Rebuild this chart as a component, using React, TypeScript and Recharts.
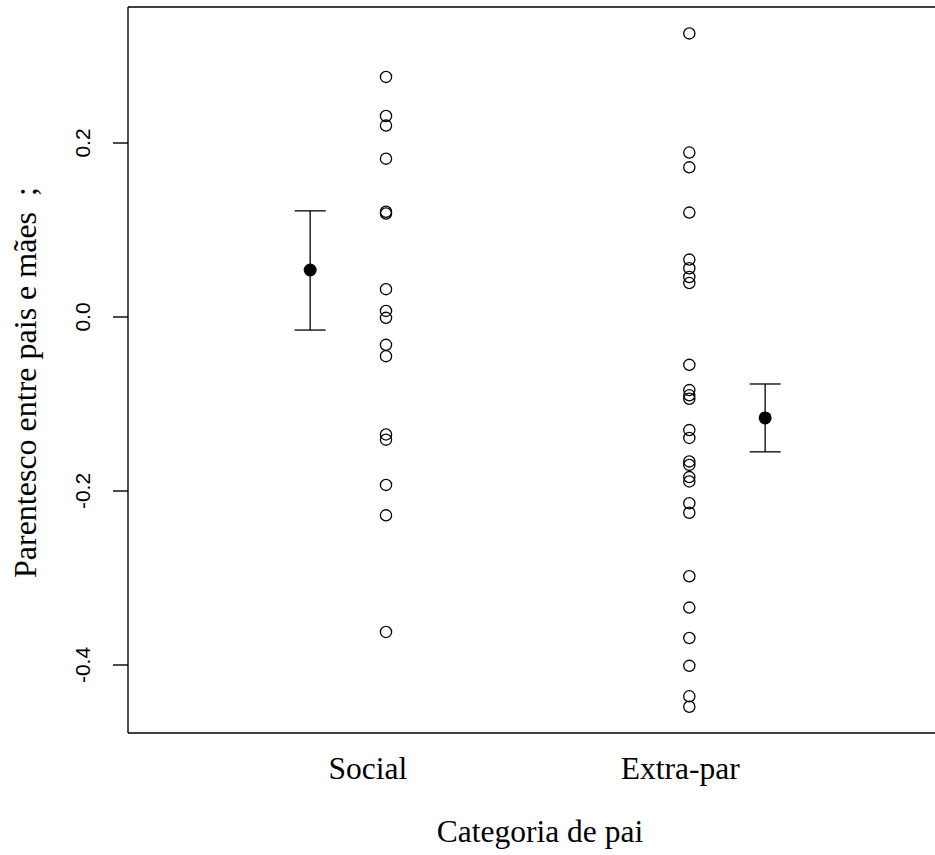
import React from "react";
import { ScatterChart, Scatter, XAxis, YAxis, ErrorBar, Label } from "recharts";

// ---- data ----
const categories = ["Social", "Extra-par"];
const categoryLabelPos = [0.94, 1.97];
const pointPos = [1, 2];
const meanPos = [0.75, 2.25];

const socialValues = [0.276, 0.231, 0.22, 0.182, 0.121, 0.119, 0.032, 0.007, -0.001, -0.032, -0.045, -0.135, -0.141, -0.193, -0.228, -0.362];
const extraParValues = [0.326, 0.189, 0.172, 0.12, 0.066, 0.056, 0.046, 0.039, -0.055, -0.084, -0.09, -0.094, -0.13, -0.139, -0.166, -0.17, -0.184, -0.189, -0.214, -0.225, -0.298, -0.334, -0.369, -0.401, -0.436, -0.448];

const meanValues = [0.054, -0.116];
const lowerValues = [-0.015, -0.155];
const upperValues = [0.122, -0.077];

const yTicks = [-0.4, -0.2, 0, 0.2];
const yTickLabels = ["-0.4", "-0.2", "0.0", "0.2"];

const xTitle = "Categoria de pai";
const yTitle = "Parentesco entre pais e mães\u00A0\u00A0;";

const xDomain: [number, number] = [0.1494, 2.81];
const yDomain: [number, number] = [-0.47816, 0.35632];

const socialData = socialValues.map((v) => ({ x: pointPos[0], y: v }));
const extraData = extraParValues.map((v) => ({ x: pointPos[1], y: v }));
const meanData = meanValues.map((m, i) => ({
  x: meanPos[i],
  y: m,
  err: [m - lowerValues[i], upperValues[i] - m],
}));

const SERIF = "'Liberation Serif', 'Times New Roman', serif";
const SANS = "'Liberation Sans', Arial, Helvetica, sans-serif";
const LINE = { stroke: "#000", strokeWidth: 1.4 };

const OpenCircle = (p: any) => (
  <circle cx={p.cx} cy={p.cy} r={5.6} fill="none" stroke="#000" strokeWidth={1.3} />
);
const FilledCircle = (p: any) => <circle cx={p.cx} cy={p.cy} r={6.5} fill="#000" stroke="none" />;

const YTick = (p: any) => {
  const idx = yTicks.indexOf(p.payload.value);
  const x = 90;
  return (
    <text x={x} y={p.y} transform={`rotate(-90, ${x}, ${p.y})`} textAnchor="middle" fontFamily={SANS} fontSize={21} fill="#000">
      {idx >= 0 ? yTickLabels[idx] : String(p.payload.value)}
    </text>
  );
};

const XTick = (p: any) => {
  const idx = categoryLabelPos.indexOf(p.payload.value);
  return (
    <text x={p.x} y={779} textAnchor="middle" fontFamily={SERIF} fontSize={31.5} fill="#000">
      {idx >= 0 ? categories[idx] : ""}
    </text>
  );
};

export default function App() {
  return (
    <div style={{ position: "absolute", left: 0, top: 0, width: 935, height: 855, overflow: "hidden", background: "#fff" }}>
      <ScatterChart width={935} height={855} margin={{ top: 6, right: 0, bottom: 0, left: 0 }}>
        <XAxis
          xAxisId="top"
          orientation="top"
          type="number"
          dataKey="x"
          domain={xDomain}
          allowDataOverflow
          tick={false}
          tickLine={false}
          axisLine={LINE}
          height={1}
        />
        <XAxis
          type="number"
          dataKey="x"
          domain={xDomain}
          allowDataOverflow
          ticks={categoryLabelPos}
          interval={0}
          tick={<XTick />}
          tickLine={false}
          axisLine={LINE}
          height={122}
        >
          <Label
            content={() => (
              <text x={540} y={842} textAnchor="middle" fontFamily={SERIF} fontSize={31.5} fill="#000">
                {xTitle}
              </text>
            )}
          />
        </XAxis>
        <YAxis
          type="number"
          dataKey="y"
          domain={yDomain}
          allowDataOverflow
          ticks={yTicks}
          interval={0}
          tick={<YTick />}
          tickSize={15}
          tickLine={LINE}
          axisLine={LINE}
          width={128}
        >
          <Label
            content={() => (
              <text x={36} y={578} transform="rotate(-90, 36, 578)" textAnchor="start" fontFamily={SERIF} fontSize={32} fill="#000">
                {yTitle}
              </text>
            )}
          />
        </YAxis>
        <Scatter data={socialData} shape={OpenCircle} isAnimationActive={false} />
        <Scatter data={extraData} shape={OpenCircle} isAnimationActive={false} />
        <Scatter data={meanData} shape={FilledCircle} isAnimationActive={false}>
          <ErrorBar dataKey="err" direction="y" width={15.5} stroke="#000" strokeWidth={1.3} />
        </Scatter>
      </ScatterChart>
    </div>
  );
}
